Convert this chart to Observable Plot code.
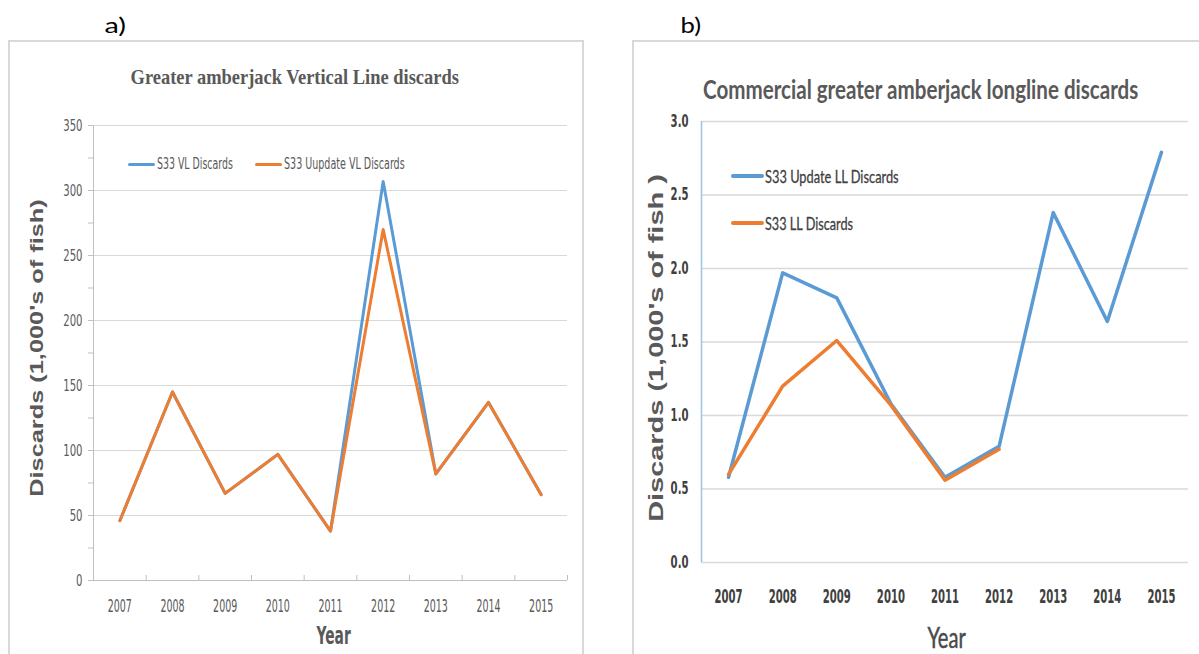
<!DOCTYPE html>
<html><head><meta charset="utf-8">
<script src="https://cdn.jsdelivr.net/npm/d3@7"></script>
<script src="https://cdn.jsdelivr.net/npm/@observablehq/plot@0.6"></script>
<style>
body{margin:0;background:#fff;}
#root{position:relative;width:1199px;height:654px;overflow:hidden;background:#fff;}
.panel{position:absolute;border:2px solid #d9d9d9;box-sizing:border-box;}
.plot{position:absolute;overflow:visible;}
</style></head><body><div id="root"></div>
<script>
// ---------- data ----------
const years = [2007, 2008, 2009, 2010, 2011, 2012, 2013, 2014, 2015];
// panel a: vertical line discards (1,000's of fish)
const vlDiscards = [46, 145, 67, 97, 38, 307, 82, 137, 66];
const vlUpdateDiscards = [46, 145, 67, 97, 38, 270, 82, 137, 66];
// panel b: longline discards (1,000's of fish)
const llUpdateDiscards = [0.58, 1.97, 1.80, 1.08, 0.58, 0.79, 2.38, 1.64, 2.79];
const llDiscards = [0.60, 1.20, 1.51, 1.07, 0.56, 0.77];
const yTicksA = [0, 50, 100, 150, 200, 250, 300, 350];
const yMinorTicksA = [0, 25, 50, 75, 100, 125, 150, 175, 200, 225, 250, 275, 300, 325, 350];
const yTicksB = [0, 0.5, 1.0, 1.5, 2.0, 2.5, 3.0];
const namesA = ["S33 VL Discards", "S33 Uupdate VL Discards"];
const namesB = ["S33 Update LL Discards", "S33 LL Discards"];
const titleA = "Greater amberjack Vertical Line discards";
const titleB = "Commercial greater amberjack longline discards";
const yLabelA = "Discards (1,000's of fish)";
const yLabelB = "Discards (1,000's of fish )";
const xLabel = "Year";
const blue = "#5b9bd5", orange = "#ed7d31";

const rows = (vals, name) => vals.map((v, i) => ({year: years[i], value: v, series: name}));
const boundaries = years.map(y => y - 0.5).concat([years[years.length - 1] + 0.5]);

const root = document.getElementById("root");
const narrow = "'Liberation Sans Narrow', 'DejaVu Sans Condensed', 'Liberation Sans', sans-serif";
const calibri = "Lato, 'Open Sans', sans-serif";

function box(l, t, w, h) {
  const d = document.createElement("div");
  d.className = "panel";
  Object.assign(d.style, {left: l + "px", top: t + "px", width: w + "px", height: h + "px"});
  root.appendChild(d);
}
function swatch(l, cy, w, th, color) {
  const d = document.createElement("div");
  Object.assign(d.style, {position: "absolute", left: l + "px", top: (cy - th / 2) + "px", width: w + "px", height: th + "px", background: color, borderRadius: th / 2 + "px"});
  root.appendChild(d);
}
function label(t, o) {
  const s = document.createElement("div");
  s.textContent = t;
  Object.assign(s.style, {position: "absolute", left: "0px", top: "0px", whiteSpace: "nowrap",
    fontFamily: o.font, fontSize: o.size + "px", fontWeight: o.weight || "normal",
    color: o.color || "#595959", lineHeight: "1"});
  if (o.stroke) s.style.webkitTextStroke = o.stroke;
  root.appendChild(s);
  const w = s.offsetWidth;
  const h = s.offsetHeight;
  const sx = o.w ? o.w / w : 1;
  if (o.left !== undefined) {
    s.style.left = o.left + "px";
    s.style.transformOrigin = "left center";
  } else {
    s.style.left = (o.cx - w / 2) + "px";
    s.style.transformOrigin = "center center";
  }
  s.style.top = (o.cy - h / 2) + "px";
  s.style.transform = `rotate(${o.rot || 0}deg) scaleX(${sx})`;
}
// horizontally condense the axis tick labels (the source fonts are tall and narrow)
function condense(svg, axis, factor) {
  svg.querySelectorAll(`g[aria-label="${axis}-axis tick label"] text`).forEach(t => {
    const l = t.getComputedTextLength();
    t.setAttribute("textLength", l * factor);
    t.setAttribute("lengthAdjust", "spacingAndGlyphs");
  });
}

// ---------- panel frames ----------
box(8, 40, 576, 640);
box(632, 40, 600, 640);

label("a)", {cx: 115, cy: 25, size: 22, font: calibri, color: "#000", w: 21});
label("b)", {cx: 691, cy: 25, size: 22, font: calibri, color: "#000", w: 21});

// ---------- panel a ----------
const plotA = Plot.plot({
  width: 576, height: 540,
  marginLeft: 85, marginTop: 25, marginBottom: 60, marginRight: 17,
  x: {domain: [boundaries[0], boundaries[boundaries.length - 1]]},
  y: {domain: [0, 350]},
  style: {background: "transparent", overflow: "visible"},
  marks: [
    Plot.gridY(yTicksA.slice(1), {stroke: "#d9d9d9", strokeOpacity: 1, strokeWidth: 1}),
    Plot.axisY(yMinorTicksA, {tickSize: 5, text: null, label: null, stroke: "#bfbfbf"}),
    Plot.axisY(yTicksA, {tickSize: 5, tickPadding: 6, stroke: "#bfbfbf", label: null,
      fontFamily: narrow, fontSize: 16.5, fill: "#595959"}),
    Plot.ruleX([boundaries[0]], {stroke: "#bfbfbf"}),
    Plot.ruleY([0], {stroke: "#bfbfbf"}),
    Plot.axisX(boundaries, {tickSize: 5, dy: -5, text: null, label: null, stroke: "#bfbfbf"}),
    Plot.axisX(years, {tickSize: 0, tickPadding: 19, label: null, tickFormat: d => String(d),
      fontFamily: narrow, fontSize: 18, fill: "#595959"}),
    Plot.line(rows(vlDiscards, namesA[0]), {x: "year", y: "value", stroke: blue, strokeWidth: 3}),
    Plot.line(rows(vlUpdateDiscards, namesA[1]), {x: "year", y: "value", stroke: orange, strokeWidth: 3})
  ]
});
plotA.classList.add("plot");
Object.assign(plotA.style, {left: "8px", top: "100px"});
root.appendChild(plotA);
condense(plotA, "x", 0.585);
condense(plotA, "y", 0.68);

label(titleA, {cx: 294, cy: 77, size: 22, weight: "bold", font: "'Liberation Serif', serif", w: 328});
label(yLabelA, {cx: 36, cy: 348, size: 18, weight: "bold", font: "'Liberation Sans', Arial, sans-serif", rot: -90, w: 297});
label(xLabel, {cx: 333, cy: 636, size: 24, weight: "bold", font: narrow, w: 34});
swatch(128, 164, 27, 3, blue);
label(namesA[0], {left: 157, cy: 164, size: 15, font: narrow, w: 76});
swatch(255, 164, 27, 3, orange);
label(namesA[1], {left: 284, cy: 164, size: 15, font: narrow, w: 121});

// ---------- panel b ----------
const plotB = Plot.plot({
  width: 567, height: 540,
  marginLeft: 69, marginTop: 21, marginBottom: 78, marginRight: 11,
  x: {domain: [boundaries[0], boundaries[boundaries.length - 1]]},
  y: {domain: [0, 3]},
  style: {background: "transparent", overflow: "visible"},
  marks: [
    Plot.gridY(yTicksB, {stroke: "#d9d9d9", strokeOpacity: 1, strokeWidth: 1.5}),
    Plot.ruleX([boundaries[0]], {stroke: "#9dc3e6", strokeWidth: 1.5}),
    Plot.axisY(yTicksB, {tickSize: 0, tickPadding: 13, label: null, tickFormat: d3.format(".1f"),
      fontFamily: narrow, fontSize: 17, fontWeight: "bold", fill: "#404040"}),
    Plot.axisX(years, {tickSize: 0, tickPadding: 26, label: null, tickFormat: d => String(d),
      fontFamily: narrow, fontSize: 20, fontWeight: "bold", fill: "#404040"}),
    Plot.line(rows(llUpdateDiscards, namesB[0]), {x: "year", y: "value", stroke: blue, strokeWidth: 3.5}),
    Plot.line(rows(llDiscards, namesB[1]), {x: "year", y: "value", stroke: orange, strokeWidth: 3.5})
  ]
});
plotB.classList.add("plot");
Object.assign(plotB.style, {left: "632px", top: "100px"});
root.appendChild(plotB);
condense(plotB, "x", 0.56);
condense(plotB, "y", 0.66);

label(titleB, {cx: 920, cy: 88, size: 27, weight: "bold", font: calibri, w: 435, color: "#595959"});
label(yLabelB, {cx: 656, cy: 348, size: 20, weight: "bold", font: "'Liberation Sans', Arial, sans-serif", rot: -90, w: 347});
label(xLabel, {cx: 946, cy: 637, size: 28, font: calibri, w: 38, color: "#4a4a4a", stroke: "0.5px #4a4a4a"});
swatch(731, 176, 33, 4, blue);
label(namesB[0], {left: 765, cy: 176, size: 18, font: calibri, w: 134, color: "#404040", stroke: "0.3px #404040"});
swatch(731, 223, 33, 4, orange);
label(namesB[1], {left: 765, cy: 223, size: 18, font: calibri, w: 88, color: "#404040", stroke: "0.3px #404040"});
</script></body></html>
